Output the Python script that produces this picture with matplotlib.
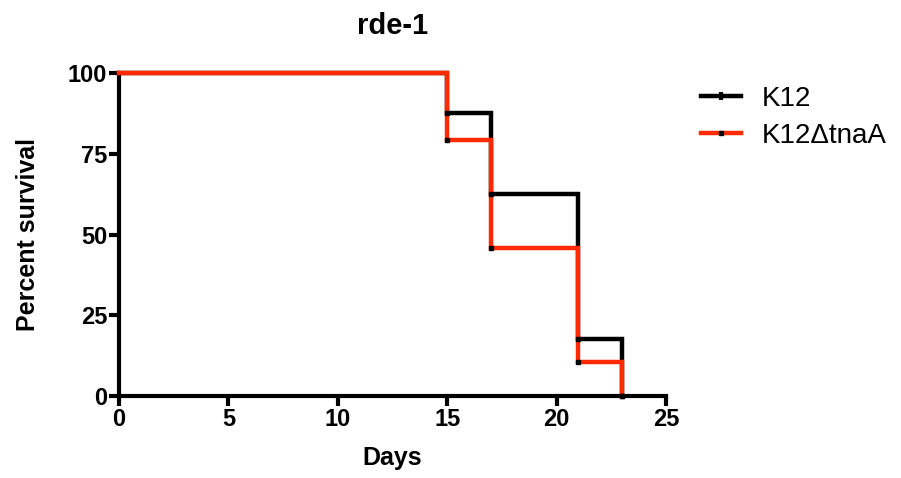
import matplotlib
matplotlib.use("Agg")
import matplotlib.pyplot as plt
from matplotlib.lines import Line2D

plt.rcParams['font.family'] = ['Liberation Sans', 'DejaVu Sans']

title = "rde-1"
xlabel = "Days"
ylabel = "Percent survival"
series_names = ["K12", "K12\u0394tnaA"]
colors = ["#000000", "#FF2A00"]

k12_days = [0, 15, 17, 21, 23]
k12_surv = [100, 87.5, 62.5, 17.5, 0]
tna_days = [0, 15, 17, 21, 23]
tna_surv = [100, 79.2, 45.8, 10.4, 0]

xticks = [0, 5, 10, 15, 20, 25]
yticks = [0, 25, 50, 75, 100]

fig = plt.figure(figsize=(9.01, 4.78), dpi=100)
ax = fig.add_axes([119/901, 1-396/478, (666-119)/901, (396-73)/478])

def steps(days, surv):
    xs, ys = [days[0]], [surv[0]]
    for i in range(1, len(days)):
        xs += [days[i], days[i]]
        ys += [surv[i-1], surv[i]]
    return xs, ys

for days, surv, c in [(k12_days, k12_surv, colors[0]), (tna_days, tna_surv, colors[1])]:
    xs, ys = steps(days, surv)
    ax.plot(xs, ys, color=c, lw=3.2, solid_joinstyle='miter', clip_on=False, zorder=3)
    ax.plot(days[1:], surv[1:], linestyle='none', marker='s', ms=3.5, color='black',
            clip_on=False, zorder=4)

ax.set_xlim(0, 25)
ax.set_ylim(0, 100)
ax.set_xticks(xticks)
ax.set_yticks(yticks)
for s in ['top', 'right']:
    ax.spines[s].set_visible(False)
for s in ['left', 'bottom']:
    ax.spines[s].set_linewidth(3)
ax.tick_params(width=3, length=7, labelsize=17, pad=1.5)
for lab in ax.get_xticklabels() + ax.get_yticklabels():
    lab.set_fontweight('bold')
ax.set_xlabel(xlabel, fontsize=18, fontweight='bold', labelpad=11)
ax.set_ylabel(ylabel, fontsize=18, fontweight='bold', labelpad=20)
ax.set_title(title, fontsize=21, fontweight='bold', pad=28)

handles = [Line2D([], [], color=colors[0], lw=3.2, marker='|', ms=6, mec='black', mew=3),
           Line2D([], [], color=colors[1], lw=3.2, marker='s', ms=3.5, mec='black', mfc='black')]
fig.legend(handles, series_names, loc='upper left', bbox_to_anchor=(676/901, 1-61/478),
           frameon=False, fontsize=20, handlelength=1.45, labelspacing=0.4, handletextpad=0.75,
           markerscale=1, numpoints=1)

fig.savefig("out.png", dpi=100)
